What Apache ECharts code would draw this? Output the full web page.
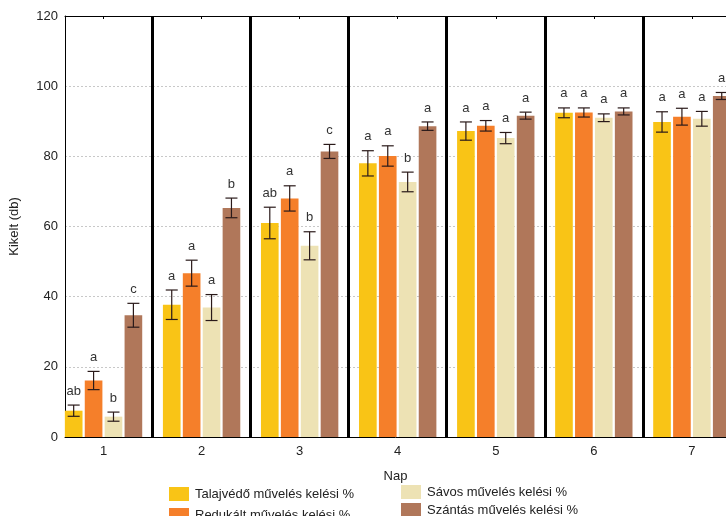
<!DOCTYPE html>
<html>
<head>
<meta charset="utf-8">
<script src="https://cdn.jsdelivr.net/npm/echarts@6/dist/echarts.min.js"></script>
<style>
  html, body { margin: 0; padding: 0; background: #fff; }
  #chart { width: 726px; height: 516px; }
</style>
</head>
<body>
<div id="chart"></div>
<script>
// Days of observation
const days = [1, 2, 3, 4, 5, 6, 7];
const yTicks = [0, 20, 40, 60, 80, 100, 120];

// Emergence (%) per tillage method, standard errors and significance letters
const talajvedo = [7.5, 37.7, 61.0, 78.0, 87.2, 92.4, 89.8];
const talajvedoErr = [1.6, 4.2, 4.5, 3.6, 2.6, 1.4, 2.9];
const talajvedoLetters = ['ab', 'a', 'ab', 'a', 'a', 'a', 'a'];

const redukalt = [16.1, 46.7, 68.0, 80.1, 88.7, 92.5, 91.3];
const redukaltErr = [2.6, 3.7, 3.6, 2.9, 1.5, 1.3, 2.4];
const redukaltLetters = ['a', 'a', 'a', 'a', 'a', 'a', 'a'];

const savos = [5.8, 36.9, 54.5, 72.7, 85.2, 91.0, 90.7];
const savosErr = [1.3, 3.7, 4.0, 2.8, 1.6, 1.1, 2.1];
const savosLetters = ['b', 'a', 'b', 'b', 'a', 'a', 'a'];

const szantas = [34.7, 65.3, 81.4, 88.6, 91.6, 92.8, 97.2];
const szantasErr = [3.4, 2.8, 2.0, 1.2, 1.0, 1.0, 1.0];
const szantasLetters = ['c', 'b', 'c', 'a', 'a', 'a', 'a'];

const seriesNames = [
  'Talajvédő művelés kelési %',
  'Redukált művelés kelési %',
  'Sávos művelés kelési %',
  'Szántás művelés kelési %'
];
const colors = ['#F9C416', '#F57F2A', '#EDE2B4', '#B0775A'];
const values = [talajvedo, redukalt, savos, szantas];
const errors = [talajvedoErr, redukaltErr, savosErr, szantasErr];
const letters = [talajvedoLetters, redukaltLetters, savosLetters, szantasLetters];

// Heavy separators between days
const dayBoundaries = days.slice(1).map(d => d - 0.5);

const FONT = '"Liberation Sans", Arial, sans-serif';

function makeSeries(k) {
  return {
    name: seriesNames[k],
    type: 'custom',
    itemStyle: { color: colors[k] },
    clip: true,
    data: days.map((d, i) => [d, values[k][i], errors[k][i]]),
    renderItem: function (params, api) {
      const x = api.value(0);
      const v = api.value(1);
      const e = api.value(2);
      const letter = letters[k][params.dataIndex];
      const unit = api.size([1, 0])[0];
      const pitch = unit * 0.203;
      const barW = unit * 0.18;
      const base = api.coord([x, 0]);
      const cx = base[0] + (k - 1.5) * pitch;
      const top = api.coord([x, v])[1];
      const hi = api.coord([x, v + e])[1];
      const lo = api.coord([x, v - e])[1];
      const cap = 6;
      const lineStyle = { stroke: '#2a1a1a', lineWidth: 1.2 };
      return {
        type: 'group',
        children: [
          { type: 'rect', shape: { x: cx - barW / 2, y: top, width: barW, height: base[1] - top },
            style: { fill: colors[k] } },
          { type: 'line', shape: { x1: cx, y1: hi, x2: cx, y2: lo }, style: lineStyle },
          { type: 'line', shape: { x1: cx - cap, y1: hi, x2: cx + cap, y2: hi }, style: lineStyle },
          { type: 'line', shape: { x1: cx - cap, y1: lo, x2: cx + cap, y2: lo }, style: lineStyle },
          { type: 'text', style: { text: letter, x: cx, y: hi - 14, align: 'center', verticalAlign: 'middle',
            fill: '#333', font: '13px ' + FONT } }
        ]
      };
    }
  };
}

const series = [0, 1, 2, 3].map(makeSeries);
series[0].markLine = {
  silent: true,
  symbol: 'none',
  label: { show: false },
  lineStyle: { color: '#000', width: 3, type: 'solid' },
  data: dayBoundaries.map(b => ({ xAxis: b }))
};

// Legend in two columns: one entry per legend box
const legendSlots = [[169, 487], [169, 508], [401, 485], [401, 503]];
const legends = seriesNames.map((name, i) => ({
  data: [name],
  orient: 'vertical',
  left: legendSlots[i][0], top: legendSlots[i][1],
  padding: 0,
  itemWidth: 20, itemHeight: 14, itemGap: 0, icon: 'rect',
  textStyle: { fontSize: 13, color: '#222', fontFamily: FONT, padding: [0, 0, 0, 1] }
}));

const chart = echarts.init(document.getElementById('chart'), null, { renderer: 'canvas' });
chart.setOption({
  animation: false,
  backgroundColor: '#fff',
  textStyle: { fontFamily: FONT },
  grid: { left: 59, right: -2, top: 16, bottom: 79, containLabel: false },
  legend: legends,
  xAxis: [
    {
      type: 'value',
      min: 0.607, max: 7.348,
      position: 'bottom',
      name: 'Nap', nameLocation: 'middle', nameGap: 33,
      nameTextStyle: { fontSize: 13, color: '#222', fontFamily: FONT },
      axisLine: { show: true, lineStyle: { color: '#000', width: 1 } },
      axisTick: { show: false },
      axisLabel: { customValues: days, fontSize: 13, color: '#222', margin: 8, fontFamily: FONT },
      splitLine: { show: false }
    },
    {
      type: 'value',
      min: 0.607, max: 7.348,
      position: 'top',
      axisLine: { show: true, lineStyle: { color: '#000', width: 1 } },
      axisTick: { show: true, inside: true, length: 3, customValues: days, lineStyle: { color: '#000' } },
      axisLabel: { show: false, customValues: days },
      splitLine: { show: false }
    }
  ],
  yAxis: {
    type: 'value',
    min: 0, max: 120, interval: 20,
    name: 'Kikelt (db)', nameLocation: 'middle', nameGap: 44,
    nameTextStyle: { fontSize: 13, color: '#222', fontFamily: FONT },
    axisLine: { show: true, lineStyle: { color: '#000', width: 1 } },
    axisTick: { show: false },
    axisLabel: { fontSize: 13, color: '#222', margin: 7, fontFamily: FONT,
      formatter: v => (yTicks.indexOf(v) >= 0 ? String(v) : '') },
    splitLine: { show: true, lineStyle: { color: '#c8c8c8', type: [2, 2], width: 1 } }
  },
  series: series
});
</script>
</body>
</html>
